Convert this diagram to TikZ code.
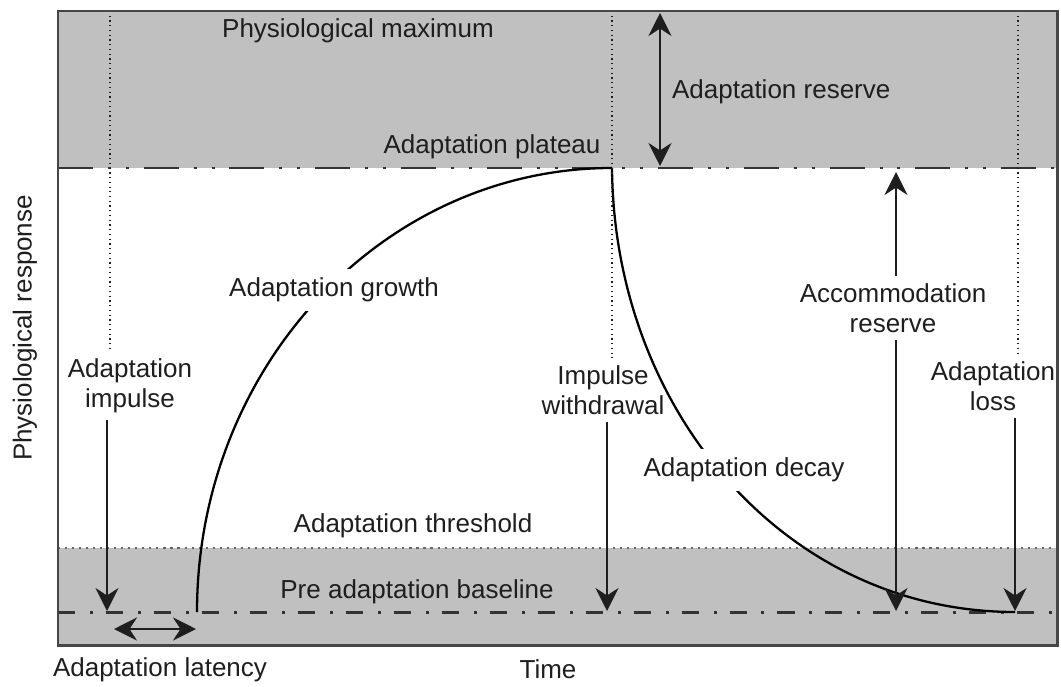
\documentclass[tikz,border=0pt]{standalone}
\usepackage{fontspec}
\setmainfont{Liberation Sans}
\usetikzlibrary{arrows.meta}
\definecolor{band}{RGB}{192,192,192}
\definecolor{frame}{RGB}{70,70,70}
\definecolor{ink}{RGB}{30,30,30}

\begin{document}
\begin{tikzpicture}[x=0.02cm,y=-0.02cm,
    >={Stealth[length=0.46cm,width=0.46cm]},
    lbl/.style={font=\fontsize{14.8}{16.8}\selectfont,text=ink,inner sep=1pt},
    twoline/.style={lbl,align=center,inner ysep=4pt},
    arr/.style={line width=1.3pt,ink},
    guide/.style={line width=0.7pt,ink,dotted},
    level/.style={line width=1.7pt,black!80}]
    \useasboundingbox (0,0) rectangle (1061,686);
    % shaded bands
    \fill[band] (58,11) rectangle (1057,168);
    \fill[band] (58,548) rectangle (1057,645);
    % threshold, plateau and baseline
    \draw[line width=0.9pt,black!60,dash pattern=on 1.2pt off 2.8pt] (58,548)--(1057,548);
    \draw[level,dash pattern=on 19.9pt off 8.5pt on 1.7pt off 8.5pt on 1.7pt off 8.5pt] (58,168)--(1057,168);
    \draw[level,dash pattern=on 9.7pt off 8.5pt on 1.7pt off 7.4pt] (58,612)--(1057,612);
    % response curve
    \draw[line width=1.3pt] (197,612) .. controls (197,367) and (383,168) .. (612,168);
    \draw[line width=1.3pt] (612,168) .. controls (614,410) and (785,612) .. (1015,612);

    \node[lbl] (maximum) at (358,31) {Physiological maximum};
    \node[lbl,anchor=west] (reserve) at (670,92) {Adaptation reserve};
    \node[lbl] (plateau) at (492,147) {Adaptation plateau};
    \node[lbl,fill=white,inner sep=5pt] (growth) at (334,290) {Adaptation growth};
    \node[lbl,fill=white,inner sep=5pt] (decay) at (744,470) {Adaptation decay};
    \node[lbl] (threshold) at (413,526) {Adaptation threshold};
    \node[lbl] (baseline) at (417,592) {Pre adaptation baseline};
    \node[lbl] (latency) at (160,670) {Adaptation latency};
    \node[lbl] (time) at (548,669) {Time};
    \node[lbl,rotate=90] (response) at (25,328) {Physiological response};
    \node[twoline] (impulse) at (130,386) {Adaptation\\impulse};
    \node[twoline] (withdrawal) at (603,390) {Impulse\\withdrawal};
    \node[twoline] (loss) at (993,386) {Adaptation\\loss};
    \node[twoline] (accom) at (893,308) {Accommodation\\reserve};

    \coordinate (impTop) at (110,11);
    \coordinate (impEnd) at (107,611);
    \coordinate (wdrTop) at (612,11);
    \coordinate (wdrEnd) at (607,611);
    \coordinate (lossTop) at (1018,11);
    \coordinate (lossEnd) at (1015,611);
    \coordinate (accTop) at (896,172);
    \coordinate (accEnd) at (896,611);
    \coordinate (resTop) at (660,13);
    \coordinate (resEnd) at (660,166);
    \coordinate (latL) at (114,629);
    \coordinate (latR) at (196,629);

    \draw[guide] (impTop) -- (impTop |- impulse.north);
    \draw[guide] (wdrTop) -- (wdrTop |- withdrawal.north);
    \draw[guide] (lossTop) -- (lossTop |- loss.north);
    \draw[arr,->] (impulse.south -| impEnd) -- (impEnd);
    \draw[arr,->] (withdrawal.south -| wdrEnd) -- (wdrEnd);
    \draw[arr,->] (loss.south -| lossEnd) -- (lossEnd);
    \draw[arr,->] (accom.north -| accTop) -- (accTop);
    \draw[arr,->] (accom.south -| accEnd) -- (accEnd);
    \draw[arr,<->] (resTop) -- (resEnd);
    \draw[arr,<->] (latL) -- (latR);
    % frame
    \draw[frame,line width=1.7pt] (58,11) rectangle (1057,645);
  \end{tikzpicture}
\end{document}
